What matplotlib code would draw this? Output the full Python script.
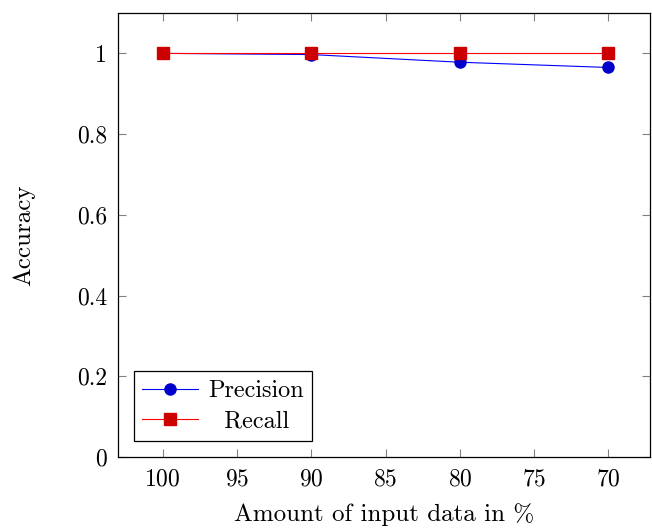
import matplotlib.pyplot as plt

plt.rcParams['font.family'] = 'cmr10'
plt.rcParams['mathtext.fontset'] = 'cm'
plt.rcParams['axes.formatter.use_mathtext'] = True

data_amount = [100, 90, 80, 70]
precision = [1.0, 0.997, 0.978, 0.965]
recall = [1.0, 1.0, 1.0, 1.0]
xticks = [100, 95, 90, 85, 80, 75, 70]
yticks = [0, 0.2, 0.4, 0.6, 0.8, 1]
ytick_labels = ['0', '0.2', '0.4', '0.6', '0.8', '1']

fig = plt.figure(figsize=(6.52, 5.3), dpi=100)
ax = fig.add_axes([0.181, 0.1377, 0.816, 0.8378])

ax.plot(data_amount, precision, color='blue', lw=0.8, marker='o', ms=8,
        mfc=(0, 0, 0.8), mec=(0, 0, 0.8), label='Precision')
ax.plot(data_amount, recall, color='red', lw=0.8, marker='s', ms=8,
        mfc=(0.8, 0, 0), mec=(0.8, 0, 0), label='  Recall')

ax.set_xlim(103, 67.2)
ax.set_ylim(0, 1.1)
ax.set_xticks(xticks)
ax.set_yticks(yticks)
ax.set_yticklabels(ytick_labels)
ax.tick_params(direction='in', length=6, width=0.8, color='#808080',
               top=True, right=True, labelsize=17, pad=8)
for s in ax.spines.values():
    s.set_linewidth(0.9)

ax.set_xlabel('Amount of input data in %', fontsize=18, labelpad=9)
ax.set_ylabel('Accuracy', fontsize=18, labelpad=30)

leg = ax.legend(loc='lower left', fontsize=17.5, fancybox=False, framealpha=1,
                edgecolor='black', borderaxespad=0.65, handlelength=2.3,
                borderpad=0.35, labelspacing=0.35, handletextpad=0.4)
leg.get_frame().set_linewidth(0.9)

fig.savefig('out.png', dpi=100)
